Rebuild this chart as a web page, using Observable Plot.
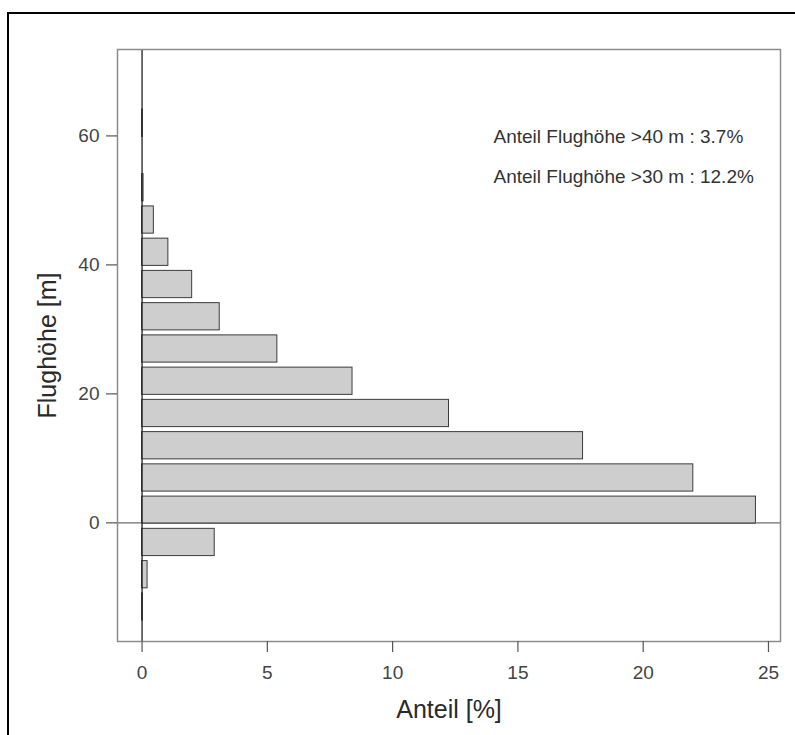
<!DOCTYPE html>
<html>
<head>
<meta charset="utf-8">
<script src="https://cdn.jsdelivr.net/npm/d3@7"></script>
<script src="https://cdn.jsdelivr.net/npm/@observablehq/plot@0.6"></script>
<style>
  html, body { margin: 0; padding: 0; background: #fff; overflow: hidden; }
  #wrap { position: relative; width: 795px; height: 735px; }
  #border { position: absolute; left: 7px; top: 12px; width: 2000px; height: 2000px;
            border: 2px solid #000; pointer-events: none; }
</style>
</head>
<body>
<div id="wrap"><div id="border"></div></div>
<script>
// Flight-height bins (lower edge, m) and their share (%)
const binStart = [-15, -10, -5, 0, 5, 10, 15, 20, 25, 30, 35, 40, 45, 50, 55, 60];
const binWidth = 5;
const share    = [0.03, 0.22, 2.9, 24.5, 22.0, 17.6, 12.25, 8.4, 5.4, 3.1, 2.0, 1.05, 0.47, 0.06, 0, 0.03];

const xTicks = [0, 5, 10, 15, 20, 25];
const yTicks = [0, 20, 40, 60];

const xTitle = "Anteil [%]";
const yTitle = "Flughöhe [m]";
const annotations = ["Anteil Flughöhe >40 m : 3.7%", "Anteil Flughöhe >30 m : 12.2%"];

const rows = binStart
  .map((lo, i) => ({lo, hi: lo + binWidth, share: share[i]}))
  .filter(d => d.share > 0);

const font = "'Liberation Sans', Arial, Helvetica, sans-serif";

const chart = Plot.plot({
  width: 795,
  height: 735,
  marginLeft: 117,
  marginRight: 15,
  marginTop: 49,
  marginBottom: 94,
  style: {fontFamily: font, background: "transparent", overflow: "visible"},
  x: {domain: [-0.98, 25.48]},
  y: {domain: [-18.4, 73.4]},
  marks: [
    Plot.rect(rows, {
      x1: 0, x2: "share", y1: "lo", y2: "hi",
      fill: "#cecece", stroke: "#3c3c3c", strokeWidth: 1,
      insetTop: 6, insetBottom: -1
    }),
    Plot.ruleY([0], {stroke: "#6e6e6e", strokeWidth: 1.3}),
    Plot.ruleX([0], {stroke: "#222", strokeWidth: 1.3}),
    Plot.frame({stroke: "#8c8c8c", strokeWidth: 1.5}),
    Plot.axisX(xTicks, {
      tickSize: 11, tickPadding: 13, fontSize: 19,
      stroke: "#555", fill: "#444", strokeWidth: 1.2, label: null
    }),
    Plot.axisY(yTicks, {
      tickSize: 11, tickPadding: 7, fontSize: 19,
      stroke: "#555", fill: "#444", strokeWidth: 1.2, label: null
    }),
    Plot.text([xTitle], {
      frameAnchor: "bottom", lineAnchor: "bottom", dy: 76,
      fontSize: 25, fill: "#2a2a2a"
    }),
    Plot.text([yTitle], {
      frameAnchor: "left", textAnchor: "middle", lineAnchor: "bottom", rotate: -90, dx: -62,
      fontSize: 25, fill: "#2a2a2a"
    }),
    Plot.text([annotations.join("\n")], {
      frameAnchor: "top-left", textAnchor: "start", lineAnchor: "top",
      dx: 376, dy: 65, lineHeight: 40 / 19,
      fontSize: 19, fill: "#333"
    })
  ]
});

document.getElementById("wrap").prepend(chart);
</script>
</body>
</html>
